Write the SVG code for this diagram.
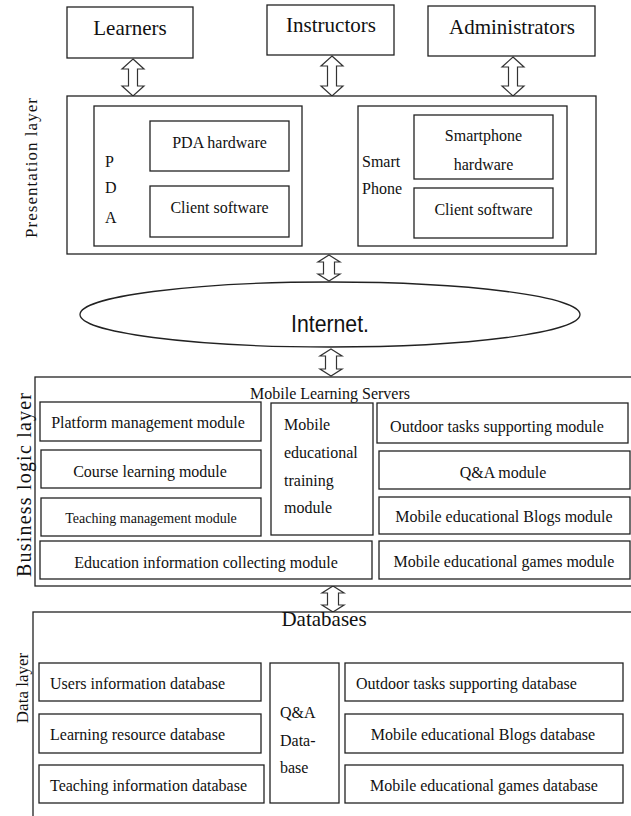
<svg xmlns="http://www.w3.org/2000/svg" width="631" height="816" viewBox="0 0 631 816" font-family="'Liberation Serif','Times New Roman',serif">
<style>
.box{fill:#fff;stroke:#222;stroke-width:1.3}
.t{font-family:'Liberation Serif','Times New Roman',serif;font-size:16px;fill:#111}
.big{font-size:21px}
.m{text-anchor:middle}
.arr{fill:#fff;stroke:#333;stroke-width:1.2;stroke-linejoin:miter}
</style>
<rect width="631" height="816" fill="#fff"/>
<g id="connectors">
<path class="arr" d="M133,59 L144,69 L137.5,69 L137.5,86 L144,86 L133,96 L122,86 L128.5,86 L128.5,69 L122,69 Z"/>
<path class="arr" d="M332,56 L343,66 L336.5,66 L336.5,86 L343,86 L332,96 L321,86 L327.5,86 L327.5,66 L321,66 Z"/>
<path class="arr" d="M513,57 L524,67 L517.5,67 L517.5,86 L524,86 L513,96 L502,86 L508.5,86 L508.5,67 L502,67 Z"/>
<path class="arr" d="M329,255 L340,262 L334.5,262 L334.5,274 L340,274 L329,281 L318,274 L323.5,274 L323.5,262 L318,262 Z"/>
<path class="arr" d="M331,349 L342,356 L336.5,356 L336.5,369 L342,369 L331,376 L320,369 L325.5,369 L325.5,356 L320,356 Z"/>
<path class="arr" d="M333,586 L344,593 L338.5,593 L338.5,605 L344,605 L333,612 L322,605 L327.5,605 L327.5,593 L322,593 Z"/>
</g>
<g id="learners">
<rect class="box" x="67" y="7" width="126" height="51"/>
<text class="t big m" x="130" y="35">Learners</text>
</g>
<g id="instructors">
<rect class="box" x="267" y="5" width="127" height="50"/>
<text class="t big m" x="331" y="32">Instructors</text>
</g>
<g id="administrators">
<rect class="box" x="428" y="6" width="167" height="50"/>
<text class="t big m" x="512" y="34">Administrators</text>
</g>
<g id="presentation-layer">
<rect class="box" x="67" y="96" width="529" height="158"/>
<text class="t m" transform="translate(37,168) rotate(-90)" style="font-size:17px" textLength="140" lengthAdjust="spacing">Presentation layer</text>
</g>
<g id="pda">
<rect class="box" x="94" y="106" width="208" height="140"/>
<text class="t" x="105" y="167">P</text>
<text class="t" x="105" y="193">D</text>
<text class="t" x="105" y="223">A</text>
</g>
<g id="pda-hardware">
<rect class="box" x="150" y="121" width="139" height="50"/>
<text class="t m" x="219.5" y="148">PDA hardware</text>
</g>
<g id="pda-client-software">
<rect class="box" x="150" y="186" width="139" height="51"/>
<text class="t m" x="219.5" y="213">Client software</text>
</g>
<g id="smartphone">
<rect class="box" x="358" y="106" width="209" height="140"/>
<text class="t" x="362" y="167">Smart</text>
<text class="t" x="362" y="194">Phone</text>
</g>
<g id="smartphone-hardware">
<rect class="box" x="414" y="115" width="139" height="64"/>
<text class="t m" x="483.5" y="141">Smartphone</text>
<text class="t m" x="483.5" y="170">hardware</text>
</g>
<g id="smartphone-client-software">
<rect class="box" x="414" y="188" width="139" height="50"/>
<text class="t m" x="483.5" y="215">Client software</text>
</g>
<g id="internet">
<ellipse class="box" cx="330" cy="314.5" rx="250" ry="32.5"/>
<text x="330" y="332" text-anchor="middle" font-family="'Liberation Sans',Arial,sans-serif" font-size="23" textLength="78" lengthAdjust="spacingAndGlyphs" fill="#111">Internet.</text>
</g>
<g id="business-logic-layer">
<rect class="box" x="35" y="377" width="605" height="209"/>
<text class="t m" x="330" y="399">Mobile Learning Servers</text>
<text class="t m" transform="translate(31,485) rotate(-90)" style="font-size:20px" textLength="184" lengthAdjust="spacing">Business logic layer</text>
</g>
<g id="platform-management">
<rect class="box" x="40" y="402" width="221" height="39"/>
<text class="t m" x="148" y="428">Platform management module</text>
</g>
<g id="course-learning">
<rect class="box" x="41" y="450" width="220" height="38"/>
<text class="t m" x="150" y="477">Course learning module</text>
</g>
<g id="teaching-management">
<rect class="box" x="41" y="498" width="220" height="38"/>
<text class="t m" x="151" y="523" style="font-size:14px">Teaching management module</text>
</g>
<g id="education-information">
<rect class="box" x="40" y="541" width="332" height="38"/>
<text class="t m" x="206" y="568">Education information collecting module</text>
</g>
<g id="mobile-educational-training">
<rect class="box" x="271" y="403" width="102" height="132"/>
<text class="t" x="284" y="430">Mobile</text>
<text class="t" x="284" y="458">educational</text>
<text class="t" x="284" y="486">training</text>
<text class="t" x="284" y="513">module</text>
</g>
<g id="outdoor-tasks-module">
<rect class="box" x="377" y="403" width="251" height="40"/>
<text class="t m" x="497" y="432">Outdoor tasks supporting module</text>
</g>
<g id="qa-module">
<rect class="box" x="379" y="451" width="251" height="38"/>
<text class="t m" x="503" y="478">Q&amp;A module</text>
</g>
<g id="blogs-module">
<rect class="box" x="379" y="497" width="251" height="37"/>
<text class="t m" x="504" y="522">Mobile educational Blogs module</text>
</g>
<g id="games-module">
<rect class="box" x="379" y="541" width="251" height="38"/>
<text class="t m" x="504" y="567">Mobile educational games module</text>
</g>
<g id="data-layer">
<rect class="box" x="33" y="612" width="610" height="215"/>
<text class="t big m" x="324" y="626">Databases</text>
<text class="t m" transform="translate(28,688) rotate(-90)" style="font-size:17px">Data layer</text>
</g>
<g id="users-db">
<rect class="box" x="39" y="663" width="222" height="38"/>
<text class="t" x="50" y="689">Users information database</text>
</g>
<g id="learning-resource-db">
<rect class="box" x="39" y="714" width="222" height="39"/>
<text class="t" x="50" y="740">Learning resource database</text>
</g>
<g id="teaching-info-db">
<rect class="box" x="39" y="765" width="225" height="38"/>
<text class="t" x="50" y="791">Teaching information database</text>
</g>
<g id="qa-db">
<rect class="box" x="270" y="663" width="69" height="140"/>
<text class="t" x="280" y="718">Q&amp;A</text>
<text class="t" x="280" y="746">Data-</text>
<text class="t" x="280" y="773">base</text>
</g>
<g id="outdoor-db">
<rect class="box" x="345" y="663" width="278" height="38"/>
<text class="t" x="356" y="689">Outdoor tasks supporting database</text>
</g>
<g id="blogs-db">
<rect class="box" x="345" y="714" width="278" height="39"/>
<text class="t m" x="483" y="740">Mobile educational Blogs database</text>
</g>
<g id="games-db">
<rect class="box" x="345" y="765" width="278" height="38"/>
<text class="t m" x="484" y="791">Mobile educational games database</text>
</g>
</svg>
